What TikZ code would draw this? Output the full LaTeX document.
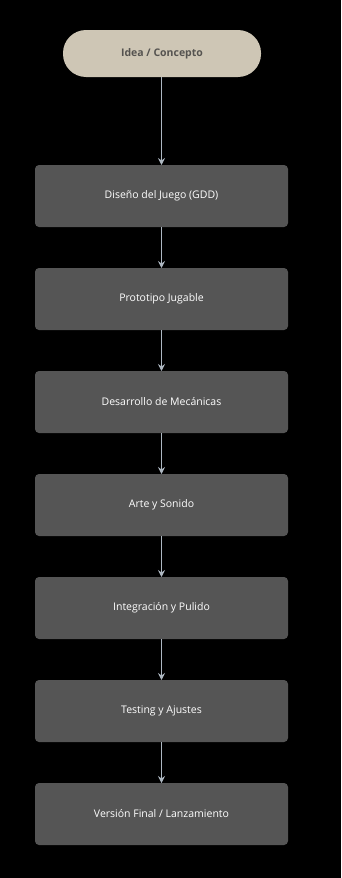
\documentclass[tikz,border=0pt]{standalone}
\usepackage{fontspec}
\setmainfont{Open Sans}
\usetikzlibrary{arrows.meta,positioning}
\definecolor{bg}{HTML}{000000}
\definecolor{sand}{HTML}{CEC6B5}
\definecolor{sandtext}{HTML}{555350}
\definecolor{stage}{HTML}{555555}
\definecolor{wire}{HTML}{AEB8C2}
\tikzset{
  flow/.style={
    -{Stealth[length=7pt,width=7pt,inset=2.5pt]},
    draw=wire,
    line width=1.6pt
  },
  start/.style={
    rectangle,
    rounded corners=23pt,
    fill=sand,
    outer sep=0pt,
    minimum width=198pt,
    minimum height=47pt,
    text=sandtext,
    font=\fontsize{10.5}{12}\selectfont\bfseries
  },
  stagebox/.style={
    rectangle,
    rounded corners=4pt,
    fill=stage,
    outer sep=0pt,
    minimum width=253pt,
    minimum height=62pt,
    text=white,
    font=\fontsize{10.5}{12}\selectfont
  }
}
\begin{document}
\begin{tikzpicture}[x=1pt,y=1pt]

  % background / page size
  \fill[bg] (0,0) rectangle (341,-878);
  \useasboundingbox (0,0) rectangle (341,-878);

  % start of the pipeline
  \node[start] (idea) at (162,-53.5) {Idea / Concepto};

  % stages
  \node[stagebox] (gdd) at (161.5,-196) {Diseño del Juego (GDD)};
  \node[stagebox, below=41pt of gdd] (proto) {Prototipo Jugable};
  \node[stagebox, below=41pt of proto] (mech) {Desarrollo de Mecánicas};
  \node[stagebox, below=41pt of mech] (art) {Arte y Sonido};
  \node[stagebox, below=41pt of art] (polish) {Integración y Pulido};
  \node[stagebox, below=41pt of polish] (test) {Testing y Ajustes};
  \node[stagebox, below=41pt of test] (launch) {Versión Final / Lanzamiento};

  % connectors
  \draw[flow] (idea.south -| gdd.north) -- (gdd.north);
  \draw[flow] (gdd) -- (proto);
  \draw[flow] (proto) -- (mech);
  \draw[flow] (mech) -- (art);
  \draw[flow] (art) -- (polish);
  \draw[flow] (polish) -- (test);
  \draw[flow] (test) -- (launch);

\end{tikzpicture}
\end{document}
